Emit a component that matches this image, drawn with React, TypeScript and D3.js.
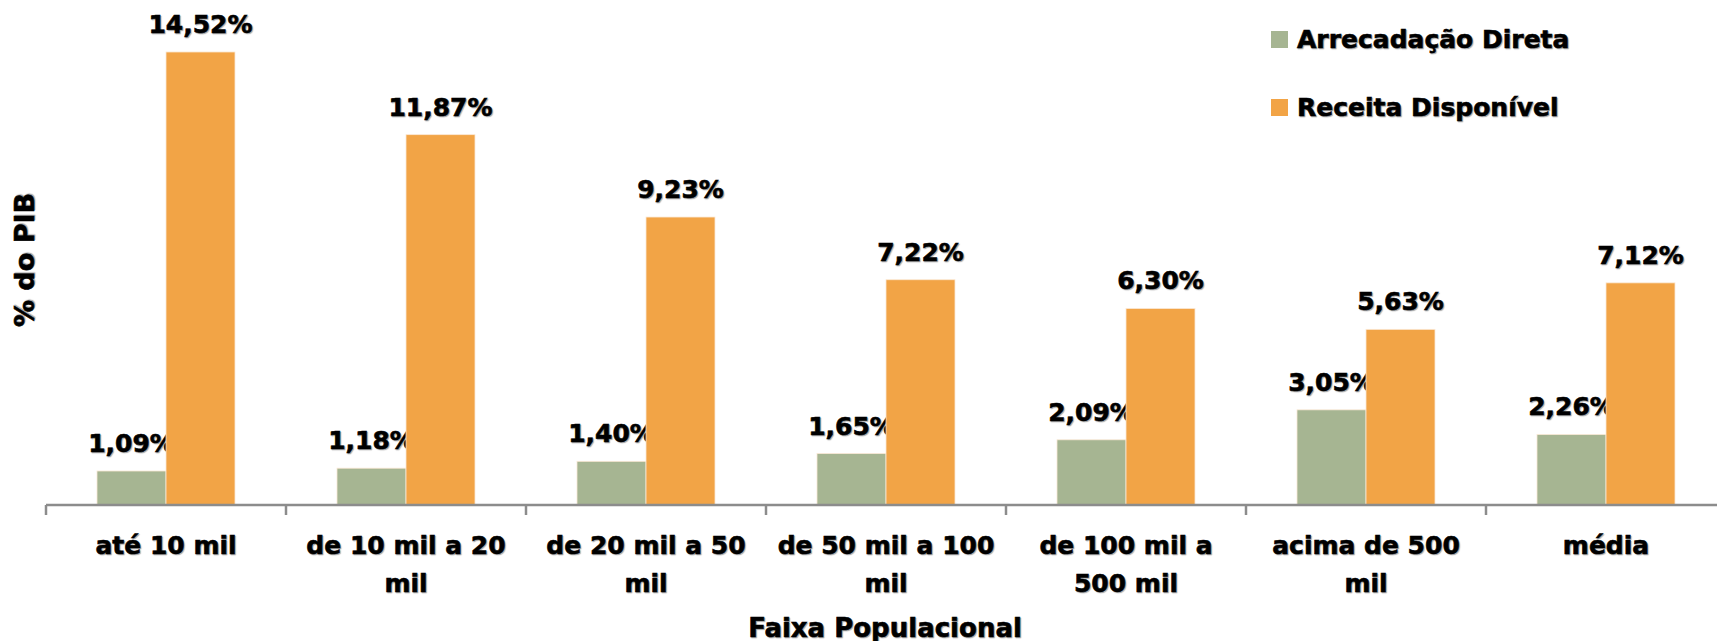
import React from "react";
import * as d3 from "d3";

const categories = [
  "até 10 mil",
  "de 10 mil a 20\nmil",
  "de 20 mil a 50\nmil",
  "de 50 mil a 100\nmil",
  "de 100 mil a\n500 mil",
  "acima de 500\nmil",
  "média",
];
const arrecadacao = [1.09, 1.18, 1.4, 1.65, 2.09, 3.05, 2.26];
const receita = [14.52, 11.87, 9.23, 7.22, 6.3, 5.63, 7.12];
const seriesNames = ["Arrecadação Direta", "Receita Disponível"];
const seriesColors = ["#A6B592", "#F2A446"];

const W = 1717;
const H = 641;
const FONT = "'DejaVu Sans', Verdana, sans-serif";

export default function App() {
  const x0 = 46;
  const band = 240;
  const x = d3
    .scaleBand<string>()
    .domain(categories)
    .range([x0, x0 + band * categories.length])
    .paddingInner(0)
    .paddingOuter(0);
  const xs = d3
    .scaleBand<number>()
    .domain([0, 1])
    .range([0, band])
    .paddingInner(0)
    .paddingOuter(0.7391);
  const y = d3.scaleLinear().domain([0, 16]).range([505, 505 - 16 * 31.2]);

  const series = [arrecadacao, receita];
  const fmt = (v: number) => v.toFixed(2).replace(".", ",") + "%";
  const shadow = { textShadow: "1px 1px 1px rgba(0,0,0,0.3)" } as React.CSSProperties;
  const heavy = { stroke: "#000", strokeWidth: 0.6 };

  return (
    <svg
      width={W}
      height={H}
      style={{ position: "absolute", left: 0, top: 0, background: "#fff" }}
      fontFamily={FONT}
      fontWeight="bold"
    >
      {/* bars */}
      {categories.map((c, i) => (
        <g key={c} transform={`translate(${x(c)},0)`}>
          {series.map((s, j) => {
            const bx = xs(j)!;
            const bw = xs.bandwidth();
            const top = y(s[i]);
            return (
              <g key={j}>
                <rect
                  x={bx}
                  y={top}
                  width={bw}
                  height={y(0) - top}
                  fill={seriesColors[j]}
                  stroke="#fbe9d6"
                  strokeWidth={0.8}
                />
                <text
                  x={bx + bw / 2}
                  y={top - 19}
                  textAnchor="middle"
                  fontSize={25}
                  fill="#000"
                  {...heavy}
                  style={shadow}
                >
                  {fmt(s[i])}
                </text>
              </g>
            );
          })}
        </g>
      ))}

      {/* x axis */}
      <line x1={x0} x2={W} y1={y(0)} y2={y(0)} stroke="#8c8c8c" strokeWidth={2.5} />
      {d3.range(categories.length + 1).map((k) => (
        <line
          key={k}
          x1={x0 + k * band}
          x2={x0 + k * band}
          y1={y(0)}
          y2={y(0) + 10}
          stroke="#8c8c8c"
          strokeWidth={2.5}
        />
      ))}
      {categories.map((c) => {
        const lines = c.split("\n");
        return (
          <text
            key={c}
            x={x(c)! + band / 2}
            y={554}
            textAnchor="middle"
            fontSize={25}
            fill="#000"
            {...heavy}
            style={shadow}
          >
            {lines.map((l, li) => (
              <tspan key={li} x={x(c)! + band / 2} dy={li === 0 ? 0 : 38}>
                {l}
              </tspan>
            ))}
          </text>
        );
      })}

      {/* axis titles */}
      <text
        x={885}
        y={637}
        textAnchor="middle"
        fontSize={26}
        fill="#000"
        {...heavy}
        style={shadow}
      >
        Faixa Populacional
      </text>
      <text
        transform={`translate(34,260) rotate(-90)`}
        textAnchor="middle"
        fontSize={27}
        fill="#000"
        {...heavy}
        style={shadow}
      >
        % do PIB
      </text>

      {/* legend */}
      {seriesNames.map((n, j) => (
        <g key={n} transform={`translate(1271,${31 + j * 68})`}>
          <rect x={0} y={0} width={17} height={17} fill={seriesColors[j]} />
          <text x={26} y={17} fontSize={25} fill="#000" {...heavy} style={shadow}>
            {n}
          </text>
        </g>
      ))}
    </svg>
  );
}
